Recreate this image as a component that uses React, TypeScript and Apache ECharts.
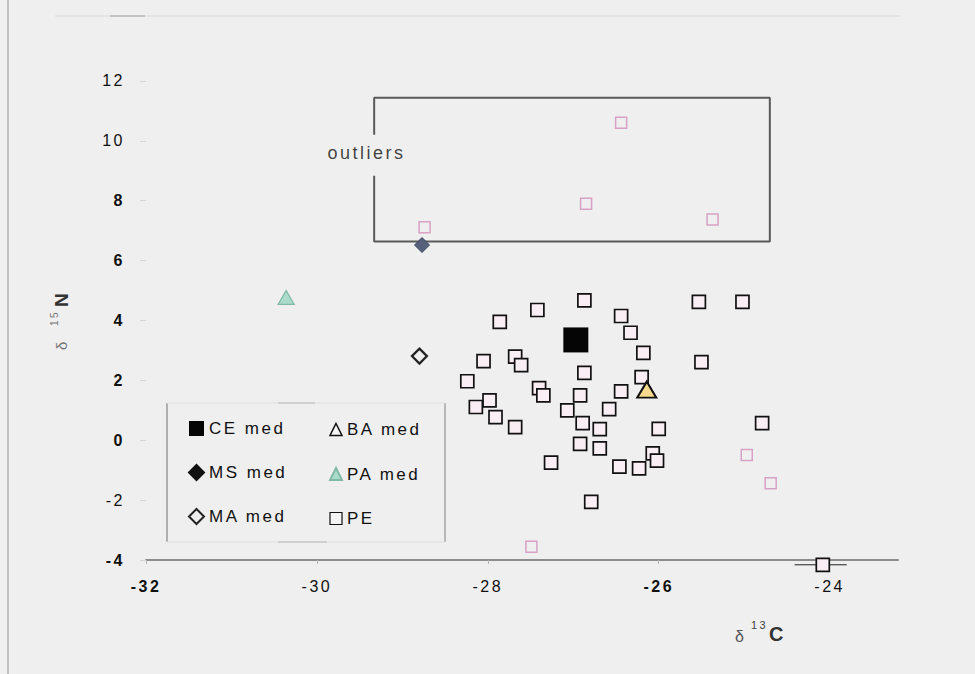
import React, { useEffect, useRef } from "react";
import * as echarts from "echarts";

// δ13C / δ15N values per group
const peValues: number[][] = [
  [-27.86, 3.95], [-27.42, 4.35], [-26.87, 4.67], [-26.44, 4.15], [-26.33, 3.59],
  [-26.18, 2.92], [-26.2, 2.11], [-25.5, 2.61], [-25.53, 4.62], [-25.02, 4.62],
  [-28.05, 2.64], [-27.68, 2.79], [-27.61, 2.51], [-28.24, 1.97], [-26.87, 2.25],
  [-27.4, 1.74], [-27.35, 1.5], [-26.92, 1.5], [-26.44, 1.63], [-27.98, 1.33],
  [-28.14, 1.11], [-27.91, 0.77], [-27.68, 0.44], [-27.07, 1.0], [-26.89, 0.57],
  [-26.58, 1.04], [-26.69, 0.37], [-26.0, 0.38], [-26.92, -0.12], [-26.69, -0.27],
  [-26.07, -0.44], [-26.02, -0.68], [-26.46, -0.88], [-26.23, -0.94], [-27.26, -0.75],
  [-26.79, -2.06], [-24.79, 0.57], [-24.08, -4.16],
];
const peOutlierValues: number[][] = [
  [-26.44, 10.6], [-26.85, 7.9], [-25.37, 7.37], [-28.74, 7.11],
  [-24.97, -0.49], [-24.69, -1.44], [-27.49, -3.56],
];
const ceMed: number[][] = [[-26.97, 3.35]];
const baMed: number[][] = [[-26.14, 1.69]];
const msMed: number[][] = [[-28.77, 6.52]];
const paMed: number[][] = [[-30.36, 4.77]];
const maMed: number[][] = [[-28.8, 2.81]];

// horizontal spread drawn on the lowest PE sample
const peErrorBar: number[][] = [[-24.41, -4.16], [-23.8, -4.16]];

// frame around the outlier region (gap left for its label)
const outlierFrame: number[][] = [
  [-29.33, 10.2], [-29.33, 11.44], [-24.7, 11.44], [-24.7, 6.64], [-29.33, 6.64], [-29.33, 8.83],
];
const outlierLabelAt: number[][] = [[-29.42, 9.6]];

const xTicks = { min: -32, max: -23.2, interval: 2 };
const yTicks = { min: -4, max: 13, interval: 2 };
const xBold = [-32, -26];
const yNormal = [12, 10, -2];

const FONT = "Liberation Sans, Arial, sans-serif";

export default function App() {
  const ref = useRef<HTMLDivElement>(null);

  useEffect(() => {
    if (!ref.current) return;
    const chart = echarts.init(ref.current, null, { renderer: "svg" });

    const legendText = { fontSize: 17, color: "#111", fontFamily: FONT, lineHeight: 16 };

    chart.setOption({
      animation: false,
      backgroundColor: "#efefef",
      grid: { left: 146, right: 77, top: 51, bottom: 114 },
      legend: [
        {
          orient: "vertical",
          left: 183,
          top: 415,
          itemWidth: 15,
          itemHeight: 15,
          itemGap: 27,
          textStyle: legendText,
          data: [
            { name: "CE med", icon: "rect" },
            { name: "MS med", icon: "diamond", itemStyle: { color: "#111", borderColor: "#111" } },
            { name: "MA med", icon: "diamond" },
          ],
          selectedMode: false,
        },
        {
          orient: "vertical",
          left: 324,
          top: 416,
          itemWidth: 12,
          itemHeight: 12,
          itemGap: 27.5,
          textStyle: legendText,
          data: [
            { name: "BA med", icon: "triangle", itemStyle: { color: "#f4f4f4", borderColor: "#111", borderWidth: 1.5 } },
            { name: "PA med", icon: "triangle" },
            { name: "PE", icon: "rect", itemStyle: { color: "#f4f4f4", borderWidth: 1.2 } },
          ],
          selectedMode: false,
        },
      ],
      xAxis: {
        type: "value",
        ...xTicks,
        splitLine: { show: false },
        axisLine: { onZero: false, lineStyle: { color: "#8c8c8c", width: 2 } },
        axisTick: { show: true, length: 4, lineStyle: { color: "#b5b5b5" } },
        axisLabel: {
          margin: 18,
          fontSize: 16,
          color: "#111",
          fontFamily: FONT,
          showMaxLabel: false,
          formatter: (v: number) =>
            Number.isInteger(v / 2) ? (xBold.includes(v) ? `{b|${v}}` : `${v}`) : "",
          rich: { b: { fontWeight: "bold", fontSize: 16, fontFamily: FONT, color: "#111" } },
        },
      },
      yAxis: {
        type: "value",
        ...yTicks,
        splitLine: { show: false },
        axisLine: { show: false },
        axisTick: { show: true, inside: false, length: 6, lineStyle: { color: "#d6d6d6" } },
        axisLabel: {
          margin: 21,
          fontSize: 16,
          color: "#111",
          fontFamily: FONT,
          showMaxLabel: false,
          formatter: (v: number) =>
            Number.isInteger(v / 2) ? (yNormal.includes(v) ? `${v}` : `{b|${v}}`) : "",
          rich: { b: { fontWeight: "bold", fontSize: 16, fontFamily: FONT, color: "#111" } },
        },
      },
      series: [
        {
          name: "frame",
          type: "line",
          data: outlierFrame,
          symbol: "none",
          silent: true,
          lineStyle: { color: "#5a5a5a", width: 2 },
          z: 1,
        },
        {
          name: "outlier label",
          type: "scatter",
          data: outlierLabelAt,
          symbolSize: 0,
          itemStyle: { color: "rgba(0,0,0,0)" },
          silent: true,
          label: {
            show: true,
            position: "inside",
            formatter: "outliers",
            fontSize: 18,
            color: "#111",
            fontFamily: FONT,
          },
        },
        {
          name: "PE spread",
          type: "line",
          data: peErrorBar,
          symbol: "none",
          silent: true,
          clip: false,
          lineStyle: { color: "#222", width: 1 },
          z: 2,
        },
        {
          name: "PE outliers",
          type: "scatter",
          data: peOutlierValues,
          symbol: "rect",
          symbolSize: 11,
          clip: false,
          itemStyle: { color: "rgba(0,0,0,0)", borderColor: "#d7a2c6", borderWidth: 1.5, opacity: 1 },
          z: 3,
        },
        {
          name: "PE",
          type: "scatter",
          data: peValues,
          symbol: "rect",
          symbolSize: 13,
          clip: false,
          itemStyle: { color: "#f8eef3", borderColor: "#111", borderWidth: 1.7, opacity: 1 },
          z: 4,
        },
        {
          name: "CE med",
          type: "scatter",
          data: ceMed,
          symbol: "rect",
          symbolSize: 25,
          itemStyle: { color: "#050505", opacity: 1 },
          z: 5,
        },
        {
          name: "BA med",
          type: "scatter",
          data: baMed,
          symbol: "triangle",
          symbolSize: [19, 16],
          itemStyle: { color: "#f6d98d", borderColor: "#111", borderWidth: 2, opacity: 1 },
          z: 5,
        },
        {
          name: "MS med",
          type: "scatter",
          data: msMed,
          symbol: "diamond",
          symbolSize: 15,
          itemStyle: { color: "#56607c", borderColor: "#3c4560", borderWidth: 1, opacity: 1 },
          z: 5,
        },
        {
          name: "PA med",
          type: "scatter",
          data: paMed,
          symbol: "triangle",
          symbolSize: [16, 14],
          itemStyle: { color: "#abdccb", borderColor: "#80b9a6", borderWidth: 1.2, opacity: 1 },
          z: 5,
        },
        {
          name: "MA med",
          type: "scatter",
          data: maMed,
          symbol: "diamond",
          symbolSize: 15,
          itemStyle: { color: "#efefef", borderColor: "#222", borderWidth: 2.2, opacity: 1 },
          z: 5,
        },
      ],
      graphic: [
        // outer frame edge
        { type: "line", shape: { x1: 8, y1: 0, x2: 8, y2: 674 }, style: { stroke: "#c2c2c2", lineWidth: 2 } },
        { type: "line", shape: { x1: 55, y1: 16, x2: 900, y2: 16 }, style: { stroke: "#e4e4e4", lineWidth: 2 } },
        { type: "line", shape: { x1: 110, y1: 16, x2: 145, y2: 16 }, style: { stroke: "#c4c4c4", lineWidth: 2 } },
        // legend box
        { type: "line", shape: { x1: 167, y1: 403, x2: 167, y2: 542 }, style: { stroke: "#9a9a9a", lineWidth: 1.5 } },
        { type: "line", shape: { x1: 445, y1: 403, x2: 445, y2: 542 }, style: { stroke: "#a4a4a4", lineWidth: 1.5 } },
        { type: "line", shape: { x1: 167, y1: 403, x2: 445, y2: 403 }, style: { stroke: "#e4e4e4", lineWidth: 1.5 } },
        { type: "line", shape: { x1: 167, y1: 542, x2: 445, y2: 542 }, style: { stroke: "#e4e4e4", lineWidth: 1.5 } },
        { type: "line", shape: { x1: 278, y1: 403, x2: 315, y2: 403 }, style: { stroke: "#c8c8c8", lineWidth: 1.5 } },
        { type: "line", shape: { x1: 278, y1: 542, x2: 327, y2: 542 }, style: { stroke: "#c8c8c8", lineWidth: 1.5 } },
        // x axis title: δ 13C
        { type: "text", x: 735, y: 628, style: { text: "δ", fontSize: 16, fontFamily: FONT, fill: "#555" } },
        { type: "text", x: 751, y: 619, style: { text: "13", fontSize: 11, fontFamily: FONT, fill: "#444" } },
        { type: "text", x: 769, y: 624, style: { text: "C", fontSize: 20, fontWeight: "bold", fontFamily: FONT, fill: "#333" } },
        // y axis title: δ 15N, reading upward
        { type: "text", x: 54, y: 350, rotation: Math.PI / 2, style: { text: "δ", fontSize: 15, fontFamily: FONT, fill: "#777" } },
        { type: "text", x: 49, y: 326, rotation: Math.PI / 2, style: { text: "15", fontSize: 10, fontFamily: FONT, fill: "#777" } },
        { type: "text", x: 52, y: 307, rotation: Math.PI / 2, style: { text: "N", fontSize: 19, fontWeight: "bold", fontFamily: FONT, fill: "#333" } },
      ],
    });

    return () => chart.dispose();
  }, []);

  return (
    <>
      <style>{`.isotope-chart text { letter-spacing: 2.5px; }`}</style>
      <div
        ref={ref}
        className="isotope-chart"
        style={{ position: "fixed", left: 0, top: 0, width: 975, height: 674 }}
      />
    </>
  );
}
